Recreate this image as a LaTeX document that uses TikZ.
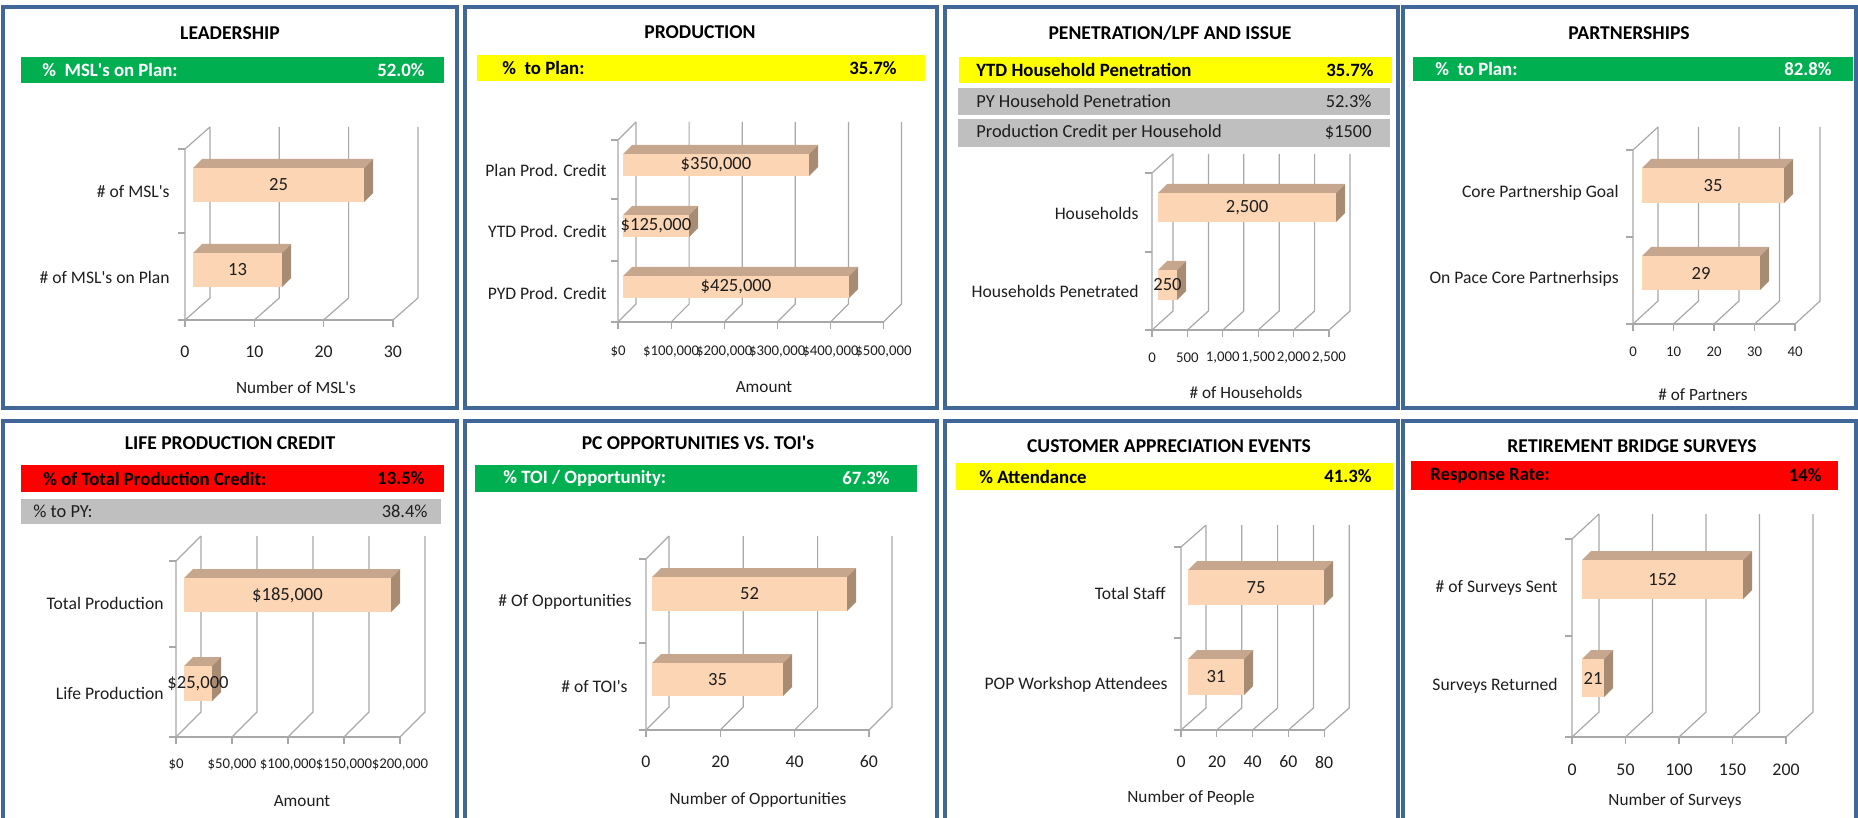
\documentclass[tikz,border=0pt]{standalone}
\usepackage{fontspec}
\setmainfont{Carlito}
\newcommand{\apos}{\textquotesingle}
\definecolor{framecol}{RGB}{65,103,152}
\definecolor{greenfill}{RGB}{0,176,80}
\definecolor{yellowfill}{RGB}{255,255,0}
\definecolor{redfill}{RGB}{255,0,0}
\definecolor{grayfill}{RGB}{191,191,191}
\definecolor{barfront}{RGB}{252,213,181}
\definecolor{bartop}{RGB}{198,166,140}
\definecolor{barside}{RGB}{168,139,115}
\definecolor{wallcol}{RGB}{168,168,168}
\definecolor{txtdark}{RGB}{30,30,30}
\tikzset{
  panel/.style={draw=framecol,line width=1.7pt},
  paneltitle/.style={font=\fontsize{9.8}{11}\selectfont\bfseries,inner sep=0},
  bannertxt/.style={font=\fontsize{9.4}{11}\selectfont\bfseries,inner sep=0},
  rowtxt/.style={font=\fontsize{9.2}{11}\selectfont,inner sep=0,text=txtdark},
  wallline/.style={draw=wallcol,line width=0.6pt},
  catlab/.style={font=\fontsize{8.8}{10}\selectfont,inner sep=0,anchor=east,text=txtdark},
  barval/.style={font=\fontsize{9.3}{10}\selectfont,inner sep=0,text=txtdark},
  ticklab/.style={font=\fontsize{8.9}{10}\selectfont,inner sep=0,text=txtdark},
  ticksmall/.style={font=\fontsize{7.4}{9}\selectfont,inner sep=0,text=txtdark},
  axtitle/.style={font=\fontsize{8.6}{10}\selectfont,inner sep=0,text=txtdark}
}
% back wall, floor and grid of one 3-D bar chart
\newcommand{\chartframe}[7]{%
  \foreach \k in {0,...,#7}{
    \draw[wallline] ({#1+\k*#6},#2) -- ++(#4,#5) -- ({#1+\k*#6+#4},{#3+(#5)});
    \draw[wallline] ({#1+\k*#6},#2) -- ++(0,7);
  }
  \draw[wallline] (#1,#2) -- (#1,#3) -- ++(#4,#5);
  \draw[wallline] (#1,#2) -- ({#1+#7*#6},#2);
}
\newcommand{\catticks}[2]{\foreach \yc in {#2} \draw[wallline] ({#1-7},\yc) -- (#1,\yc);}
% one 3-D bar: name, x, top y, length, height, value
\newcommand{\chartbar}[6]{%
  \fill[bartop] (#2,#3) -- ++(9,-9) -- ++(#4,0) -- ++(-9,9) -- cycle;
  \fill[barside] ({#2+#4},#3) -- ++(9,-9) -- ++(0,#5) -- ++(-9,9) -- cycle;
  \fill[barfront] (#2,#3) rectangle ++(#4,#5);
  \node[barval] (#1) at ({#2+#4/2},{#3+#5/2}) {#6};
}
\begin{document}
\begin{tikzpicture}[x=0.5pt,y=-0.5pt]
\useasboundingbox (0,0) rectangle (1858,818);
\clip (0,0) rectangle (1858,818);

% leadership
\draw[panel] (3,7) rectangle (457,408);
\node[paneltitle] (t1) at (230,33) {LEADERSHIP};
\fill[greenfill] (21,57) rectangle (444,83);
\node[bannertxt,text=white,anchor=west] (b1l) at (42,70) {\%\ \ MSL\apos s on Plan:};
\node[bannertxt,text=white,anchor=east] (b1r) at (425,70) {52.0\%};
\chartframe{185}{320}{149}{25}{-22}{69.3}{3}
\catticks{185}{149,233,320}
\foreach \t [count=\i from 0] in {0,10,20,30}
  \node[ticklab] (x1\i) at ({185+\i*69.3},352) {\t};
\chartbar{v1a}{193}{168}{171}{34}{25}
\chartbar{v1b}{193}{253}{89}{34}{13}
\node[catlab] (c1a) at (170,192) {\# of MSL\apos s};
\node[catlab] (c1b) at (170,277) {\# of MSL\apos s on Plan};
\node[axtitle] (a1) at (296,388) {Number of MSL\apos s};

% production
\draw[panel] (465,7) rectangle (937,408);
\node[paneltitle] (t2) at (700,32) {PRODUCTION};
\fill[yellowfill] (477,55) rectangle (925,81);
\node[bannertxt,anchor=west] (b2l) at (502,68) {\%\ \ to Plan:};
\node[bannertxt,anchor=east] (b2r) at (897,68) {35.7\%};
\chartframe{618}{322}{140}{18}{-18}{53.1}{5}
\catticks{618}{140,199,261,322}
\foreach \t [count=\i from 0] in {{\$0},{\$100,000},{\$200,000},{\$300,000},{\$400,000},{\$500,000}}
  \node[ticksmall] (x2\i) at ({618+\i*53.1},352) {\t};
\chartbar{v2a}{623}{154}{186}{22}{\$350,000}
\chartbar{v2b}{623}{215}{66}{22}{\$125,000}
\chartbar{v2c}{623}{276}{226}{22}{\$425,000}
\node[catlab] (c2a) at (607,170) {Plan Prod. Credit};
\node[catlab] (c2b) at (607,231) {YTD Prod. Credit};
\node[catlab] (c2c) at (607,293) {PYD Prod. Credit};
\node[axtitle] (a2) at (764,387) {Amount};

% penetration
\draw[panel] (945,7) rectangle (1398,408);
\node[paneltitle] (t3) at (1170,33) {PENETRATION/LPF AND ISSUE};
\fill[yellowfill] (959,57) rectangle (1392,83);
\node[bannertxt,anchor=west] (b3l) at (976,70) {YTD Household Penetration};
\node[bannertxt,anchor=east] (b3r) at (1374,70) {35.7\%};
\fill[grayfill] (958,88) rectangle (1390,115);
\node[rowtxt,anchor=west] (r3l) at (976,101.5) {PY Household Penetration};
\node[rowtxt,anchor=east] (r3r) at (1372,101.5) {52.3\%};
\fill[grayfill] (958,119) rectangle (1390,147);
\node[rowtxt,anchor=west] (s3l) at (976,133) {Production Credit per Household};
\node[rowtxt,anchor=east] (s3r) at (1372,133) {\$1500};
\chartframe{1152}{330}{173}{21}{-19}{35.4}{5}
\catticks{1152}{173,252,330}
\foreach \t [count=\i from 0] in {0,500,{1,000},{1,500},{2,000},{2,500}}
  \node[ticksmall] (x3\i) at ({1152+\i*35.4},358) {\t};
\chartbar{v3a}{1158}{193}{178}{29}{2,500}
\chartbar{v3b}{1158}{270}{19}{30}{250}
\node[catlab] (c3a) at (1139,213) {Households};
\node[catlab] (c3b) at (1139,291) {Households Penetrated};
\node[axtitle] (a3) at (1246,393) {\# of Households};

% partnerships
\draw[panel] (1403,7) rectangle (1856,408);
\node[paneltitle] (t4) at (1629,33) {PARTNERSHIPS};
\fill[greenfill] (1413,57) rectangle (1853,81);
\node[bannertxt,text=white,anchor=west] (b4l) at (1435,69) {\%\ \ to Plan:};
\node[bannertxt,text=white,anchor=east] (b4r) at (1832,69) {82.8\%};
\chartframe{1633}{324}{150}{25}{-23}{40.5}{4}
\catticks{1633}{150,237,324}
\foreach \t [count=\i from 0] in {0,10,20,30,40}
  \node[ticksmall] (x4\i) at ({1633+\i*40.5},352) {\t};
\chartbar{v4a}{1642}{168}{142}{35}{35}
\chartbar{v4b}{1642}{256}{118}{34}{29}
\node[catlab] (c4a) at (1619,193) {Core Partnership Goal};
\node[catlab] (c4b) at (1619,279) {On Pace Core Partnerhsips};
\node[axtitle] (a4) at (1703,395) {\# of Partners};

% life production credit
\draw[panel] (3,421) rectangle (457,830);
\node[paneltitle] (t5) at (230,443) {LIFE PRODUCTION CREDIT};
\fill[redfill] (21,465) rectangle (444,492);
\node[bannertxt,anchor=west] (b5l) at (43,478.5) {\% of Total Production Credit:};
\node[bannertxt,anchor=east] (b5r) at (425,478.5) {13.5\%};
\fill[grayfill] (21,499) rectangle (441,524);
\node[rowtxt,anchor=west] (r5l) at (33,511.5) {\% to PY:};
\node[rowtxt,anchor=east] (r5r) at (428,511.5) {38.4\%};
\chartframe{176}{737}{561}{25}{-25}{56}{4}
\catticks{176}{561,647,737}
\foreach \t [count=\i from 0] in {{\$0},{\$50,000},{\$100,000},{\$150,000},{\$200,000}}
  \node[ticksmall] (x5\i) at ({176+\i*56},765) {\t};
\chartbar{v5a}{184}{578}{207}{34}{\$185,000}
\chartbar{v5b}{184}{666}{28}{35}{\$25,000}
\node[catlab] (c5a) at (164,603) {Total Production};
\node[catlab] (c5b) at (164,693) {Life Production};
\node[axtitle] (a5) at (302,801) {Amount};

% pc opportunities
\draw[panel] (465,421) rectangle (937,830);
\node[paneltitle] (t6) at (698,443) {PC OPPORTUNITIES VS. TOI\apos s};
\fill[greenfill] (475,465) rectangle (917,492);
\node[bannertxt,text=white,anchor=west] (b6l) at (503,478.5) {\% TOI / Opportunity:};
\node[bannertxt,text=white,anchor=east] (b6r) at (890,478.5) {67.3\%};
\chartframe{646}{730}{559}{23}{-23}{74.3}{3}
\catticks{646}{559,643,730}
\foreach \t [count=\i from 0] in {0,20,40,60}
  \node[ticklab] (x6\i) at ({646+\i*74.3},762) {\t};
\chartbar{v6a}{652}{577}{195}{34}{52}
\chartbar{v6b}{652}{663}{131}{33}{35}
\node[catlab] (c6a) at (632,602) {\# Of Opportunities};
\node[catlab] (c6b) at (628,687) {\# of TOI\apos s};
\node[axtitle] (a6) at (758,800) {Number of Opportunities};

% customer appreciation
\draw[panel] (945,421) rectangle (1398,830);
\node[paneltitle] (t7) at (1169,446) {CUSTOMER APPRECIATION EVENTS};
\fill[yellowfill] (956,463) rectangle (1393,490);
\node[bannertxt,anchor=west] (b7l) at (979,476.5) {\% Attendance};
\node[bannertxt,anchor=east] (b7r) at (1372,476.5) {41.3\%};
\chartframe{1181}{730}{547}{25}{-22}{35.8}{4}
\catticks{1181}{547,638,730}
\foreach \t [count=\i from 0] in {0,20,40,60,80}
  \node[ticklab] (x7\i) at ({1181+\i*35.8},762) {\t};
\chartbar{v7a}{1188}{570}{136}{35}{75}
\chartbar{v7b}{1188}{659}{56}{36}{31}
\node[catlab] (c7a) at (1166,593) {Total Staff};
\node[catlab] (c7b) at (1168,685) {POP Workshop Attendees};
\node[axtitle] (a7) at (1191,798) {Number of People};

% retirement bridge
\draw[panel] (1403,421) rectangle (1856,830);
\node[paneltitle] (t8) at (1632,446) {RETIREMENT BRIDGE SURVEYS};
\fill[redfill] (1411,461) rectangle (1838,490);
\node[bannertxt,anchor=west] (b8l) at (1430,475.5) {Response Rate:};
\node[bannertxt,anchor=east] (b8r) at (1822,475.5) {14\%};
\chartframe{1572}{737}{539}{27}{-25}{53.5}{4}
\catticks{1572}{539,636,737}
\foreach \t [count=\i from 0] in {0,50,100,150,200}
  \node[ticklab] (x8\i) at ({1572+\i*53.5},770) {\t};
\chartbar{v8a}{1582}{560}{161}{39}{152}
\chartbar{v8b}{1582}{659}{22}{38}{21}
\node[catlab] (c8a) at (1558,588) {\# of Surveys Sent};
\node[catlab] (c8b) at (1558,686) {Surveys Returned};
\node[axtitle] (a8) at (1675,801) {Number of Surveys};
\end{tikzpicture}
\end{document}
